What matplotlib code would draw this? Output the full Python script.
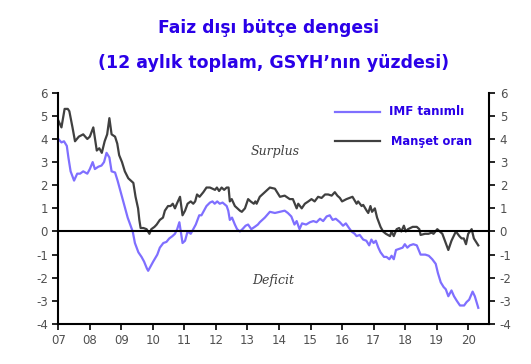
import matplotlib
matplotlib.use("Agg")
import matplotlib.pyplot as plt

plt.rcParams["axes.unicode_minus"] = False

# Manşet oran (yil, % GSYH)
manset_x = [2007.0, 2007.1, 2007.2, 2007.3, 2007.35, 2007.45, 2007.53, 2007.65, 2007.79, 2007.92,
            2008.0, 2008.11, 2008.22, 2008.3, 2008.38, 2008.47, 2008.55, 2008.62, 2008.69, 2008.8,
            2008.87, 2008.93, 2009.02, 2009.11, 2009.22, 2009.3, 2009.38, 2009.45, 2009.53, 2009.57,
            2009.61, 2009.7, 2009.8, 2009.89, 2009.95, 2010.05, 2010.12, 2010.22, 2010.32, 2010.38,
            2010.48, 2010.56, 2010.63, 2010.7, 2010.76, 2010.86, 2010.94, 2011.02, 2011.1, 2011.2,
            2011.28, 2011.34, 2011.4, 2011.48, 2011.6, 2011.7, 2011.81, 2011.97, 2012.03, 2012.1,
            2012.18, 2012.26, 2012.34, 2012.4, 2012.44, 2012.5, 2012.6, 2012.76, 2012.82, 2012.92,
            2013.02, 2013.1, 2013.2, 2013.25, 2013.29, 2013.39, 2013.55, 2013.71, 2013.87, 2014.03,
            2014.18, 2014.34, 2014.44, 2014.56, 2014.61, 2014.72, 2014.82, 2014.93, 2015.03, 2015.13,
            2015.24, 2015.35, 2015.46, 2015.56, 2015.67, 2015.77, 2015.85, 2015.93, 2016.0, 2016.14,
            2016.24, 2016.33, 2016.46, 2016.51, 2016.62, 2016.67, 2016.78, 2016.83, 2016.9, 2016.95,
            2017.04, 2017.11, 2017.22, 2017.3, 2017.39, 2017.52, 2017.57, 2017.64, 2017.73, 2017.81,
            2017.88, 2017.96, 2018.02, 2018.09, 2018.24, 2018.37, 2018.45, 2018.49, 2018.63, 2018.74,
            2018.84, 2018.9, 2019.02, 2019.1, 2019.18, 2019.26, 2019.37, 2019.47, 2019.61, 2019.72,
            2019.79, 2019.86, 2019.93, 2020.0, 2020.11, 2020.18, 2020.25, 2020.32]
manset_y = [4.8, 4.5, 5.3, 5.3, 5.2, 4.5, 3.9, 4.1, 4.2, 4.0,
            4.1, 4.5, 3.5, 3.6, 3.4, 3.9, 4.2, 4.9, 4.2, 4.1,
            3.8, 3.3, 3.0, 2.6, 2.3, 2.2, 2.1, 1.5, 1.0, 0.5,
            0.15, 0.15, 0.1, -0.1, 0.1, 0.2, 0.3, 0.5, 0.6, 0.9,
            1.1, 1.1, 1.2, 1.0, 1.2, 1.5, 0.7, 0.9, 1.2, 1.3,
            1.2, 1.3, 1.6, 1.5, 1.7, 1.9, 1.9, 1.8, 1.9, 1.75,
            1.9, 1.8, 1.9, 1.9, 1.3, 1.4, 1.1, 0.9, 0.85, 1.0,
            1.4, 1.3, 1.2, 1.3, 1.2, 1.5, 1.7, 1.9, 1.85, 1.5,
            1.55, 1.4, 1.4, 1.0, 1.2, 1.0, 1.2, 1.3, 1.4, 1.3,
            1.5, 1.45, 1.6, 1.6, 1.55, 1.7, 1.55, 1.45, 1.3, 1.4,
            1.45, 1.5, 1.2, 1.3, 1.1, 1.15, 0.9, 0.8, 1.1, 0.85,
            1.0, 0.6, 0.2, 0.0, -0.1, -0.2, 0.0, -0.2, 0.1, 0.15,
            0.0, 0.25, 0.0, 0.1, 0.2, 0.2, 0.1, -0.15, -0.1, -0.1,
            -0.05, -0.1, 0.1, 0.0, -0.1, -0.4, -0.8, -0.4, 0.0, -0.2,
            -0.3, -0.3, -0.55, -0.1, 0.1, -0.3, -0.45, -0.6]

# IMF tanımlı (yil, % GSYH)
imf_x = [2007.0, 2007.1, 2007.18, 2007.27, 2007.32, 2007.39, 2007.5, 2007.6, 2007.69, 2007.79,
         2007.92, 2008.0, 2008.09, 2008.16, 2008.27, 2008.37, 2008.45, 2008.53, 2008.62, 2008.69,
         2008.8, 2008.88, 2008.96, 2009.04, 2009.12, 2009.2, 2009.28, 2009.36, 2009.43, 2009.54,
         2009.64, 2009.72, 2009.81, 2009.85, 2009.93, 2010.01, 2010.14, 2010.22, 2010.33, 2010.43,
         2010.52, 2010.62, 2010.7, 2010.77, 2010.84, 2010.94, 2011.02, 2011.1, 2011.2, 2011.28,
         2011.36, 2011.47, 2011.54, 2011.62, 2011.7, 2011.81, 2011.89, 2011.96, 2012.04, 2012.12,
         2012.21, 2012.34, 2012.39, 2012.44, 2012.51, 2012.6, 2012.67, 2012.76, 2012.84, 2012.94,
         2013.02, 2013.12, 2013.23, 2013.33, 2013.39, 2013.55, 2013.71, 2013.87, 2014.03, 2014.18,
         2014.28, 2014.39, 2014.49, 2014.56, 2014.65, 2014.73, 2014.86, 2014.98, 2015.09, 2015.19,
         2015.3, 2015.4, 2015.51, 2015.61, 2015.7, 2015.8, 2015.93, 2016.03, 2016.12, 2016.22,
         2016.3, 2016.4, 2016.46, 2016.56, 2016.67, 2016.77, 2016.86, 2016.93, 2017.0, 2017.07,
         2017.15, 2017.22, 2017.33, 2017.41, 2017.5, 2017.57, 2017.64, 2017.71, 2017.81, 2017.92,
         2017.99, 2018.07, 2018.15, 2018.26, 2018.37, 2018.49, 2018.64, 2018.75, 2018.86, 2018.97,
         2019.04, 2019.13, 2019.22, 2019.29, 2019.37, 2019.47, 2019.55, 2019.64, 2019.74, 2019.87,
         2019.95, 2020.03, 2020.14, 2020.21, 2020.32]
imf_y = [4.0, 3.85, 3.9, 3.7, 3.2, 2.6, 2.2, 2.5, 2.5, 2.6,
         2.5, 2.7, 3.0, 2.7, 2.8, 2.85, 3.0, 3.4, 3.2, 2.6,
         2.55, 2.2, 1.8, 1.4, 1.0, 0.6, 0.3, 0.0, -0.5, -0.9,
         -1.1, -1.3, -1.6, -1.7, -1.5, -1.3, -1.0, -0.7, -0.5, -0.45,
         -0.3, -0.2, -0.1, 0.1, 0.4, -0.5, -0.4, 0.0, -0.1, 0.1,
         0.3, 0.7, 0.7, 0.9, 1.1, 1.25, 1.3, 1.2, 1.3, 1.2,
         1.25, 1.1, 0.9, 0.5, 0.6, 0.3, 0.1, 0.0, 0.1, 0.25,
         0.3, 0.1, 0.2, 0.3, 0.4, 0.6, 0.85, 0.8, 0.85, 0.9,
         0.8, 0.65, 0.3, 0.45, 0.1, 0.35, 0.3, 0.4, 0.45, 0.4,
         0.55, 0.45, 0.65, 0.7, 0.5, 0.55, 0.4, 0.25, 0.35, 0.15,
         0.0, -0.1, -0.2, -0.15, -0.35, -0.4, -0.6, -0.35, -0.5, -0.4,
         -0.7, -0.9, -1.1, -1.1, -1.2, -1.05, -1.2, -0.8, -0.75, -0.7,
         -0.55, -0.7, -0.6, -0.55, -0.6, -1.0, -1.0, -1.05, -1.2, -1.4,
         -1.8, -2.2, -2.4, -2.5, -2.8, -2.55, -2.8, -3.0, -3.2, -3.2,
         -3.05, -2.95, -2.6, -2.8, -3.3]

years = list(range(2007, 2021))
year_labels = ["%02d" % (y % 100) for y in years]
y_ticks = list(range(-4, 7))

blue = "#2a00e8"
purple = "#7f6fff"
grey = "#404040"

fig = plt.figure(figsize=(5.31, 3.64), dpi=100)
ax = fig.add_axes([0.1098, 0.1099, 0.8117, 0.6354])

ax.plot(imf_x, imf_y, color=purple, lw=1.6)
ax.plot(manset_x, manset_y, color=grey, lw=1.6)
ax.axhline(0, color="black", lw=1.5)

ax.set_xlim(2007, 2020.67)
ax.set_ylim(-4, 6)
ax.set_xticks(years)
ax.set_xticklabels(year_labels)
ax.set_yticks(y_ticks)
ax.tick_params(axis="both", direction="out", length=4, width=1.2,
               labelsize=8.5, labelcolor="#505050", color="black")
ax.tick_params(axis="y", right=True, labelright=True)
ax.spines["top"].set_visible(False)
for s in ["left", "bottom", "right"]:
    ax.spines[s].set_linewidth(1.5)

ax.text(2013.87, 3.44, "Surplus", style="italic", color="#404040", fontsize=9,
        ha="center", va="center", family="DejaVu Serif")
ax.text(2013.8, -2.14, "Deficit", style="italic", color="#404040", fontsize=9,
        ha="center", va="center", family="DejaVu Serif")

# legend drawn by hand
ax.plot([2015.77, 2017.2], [5.17, 5.17], color=purple, lw=1.6)
ax.plot([2015.77, 2017.2], [3.91, 3.91], color=grey, lw=1.6)
ax.text(2017.48, 5.17, "IMF tanımlı", color=blue, fontsize=8.6, weight="bold", va="center")
ax.text(2017.55, 3.91, "Manşet oran", color=blue, fontsize=8.3, weight="bold", va="center")

fig.text(0.505, 0.923, "Faiz dışı bütçe dengesi", color=blue, fontsize=12.3,
         weight="bold", ha="center", va="center")
fig.text(0.516, 0.827, "(12 aylık toplam, GSYH’nın yüzdesi)", color=blue, fontsize=12.5,
         weight="bold", ha="center", va="center")

fig.savefig("out.png", dpi=100)
